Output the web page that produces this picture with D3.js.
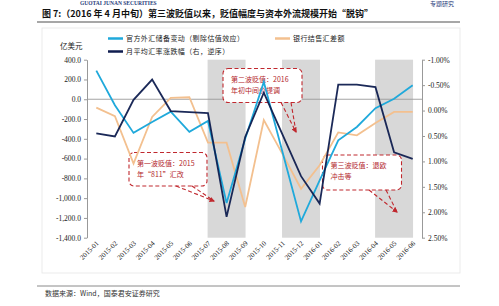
<!DOCTYPE html>
<html>
<head>
<meta charset="utf-8">
<script src="https://cdn.jsdelivr.net/npm/d3@7"></script>
<style>
  body { margin: 0; background: #fff; }
  text { font-family: "Liberation Serif", "Noto Sans CJK SC", serif; }
  .cjk { font-family: "Noto Sans CJK SC", sans-serif; }
</style>
</head>
<body>
<div id="chart"></div>
<script>
// months on the category axis
var months = ["2015-01","2015-02","2015-03","2015-04","2015-05","2015-06","2015-07","2015-08","2015-09",
  "2015-10","2015-11","2015-12","2016-01","2016-02","2016-03","2016-04","2016-05","2016-06"];

// 官方外汇储备变动（剔除估值效应），亿美元
var reserves = [290, -60, -340, -230, -125, -330, -220, -1050, -400, 175, -530, -1235, -820, -415, -280, -90, 5, 142];
// 银行结售汇差额，亿美元
var settlement = [-84, -172, -651, -179, 15, 20, -439, -439, -1090, -210, -553, -905, -668, -335, -365, -240, -128, -128];
// 月平均汇率涨跌幅（右，逆序），%
var fxChange = [0.45, 0.51, -0.21, -0.61, 0.01, 0.03, 0.05, 2.09, 0.52, -0.35, 0.47, 1.29, 1.83, -0.51, -0.51, -0.46, 0.82, 0.95];

// shaded depreciation waves (column centred on month)
var shadeMonths = ["2015-08", "2015-12", "2016-05"];

var leftTicks = [400, 200, 0, -200, -400, -600, -800, -1000, -1200, -1400];
var rightTicks = [-1.0, -0.5, 0, 0.5, 1.0, 1.5, 2.0, 2.5];

var seriesNames = ["官方外汇储备变动（剔除估值效应）", "银行结售汇差额", "月平均汇率涨跌幅（右，逆序）"];
var colors = ["#1fa9db", "#f3c08f", "#0f1d4f"];

var svgWidth = 499, svgHeight = 306;
var plot = { left: 87, right: 422, top: 59.7, bottom: 237.7 };

var svg = d3.select("#chart").append("svg")
  .attr("width", svgWidth)
  .attr("height", svgHeight);

// header (small, at the very top)
svg.append("text").attr("x", 80).attr("y", 5).attr("font-size", 5.5).attr("font-weight", "bold")
  .attr("fill", "#1f3b7a").attr("font-family", "Liberation Sans").text("GUOTAI JUNAN SECURITIES");
svg.append("text").attr("class", "cjk").attr("x", 430).attr("y", 6).attr("font-size", 6)
  .attr("fill", "#1f3b7a").text("专题研究");

// title
svg.append("text").attr("class", "cjk").attr("x", 42).attr("y", 17).attr("font-size", 9).attr("font-weight", "bold")
  .attr("fill", "#111").text("图 7:（2016 年 4 月中旬）第三波贬值以来，贬值幅度与资本外流规模开始“脱钩”");
svg.append("line").attr("x1", 37).attr("x2", 460).attr("y1", 22).attr("y2", 22)
  .attr("stroke", "#8a8a8a").attr("stroke-width", 1.6);

// chart frame
svg.append("rect").attr("x", 42).attr("y", 28).attr("width", 418).attr("height", 245)
  .attr("fill", "none").attr("stroke", "#e6e6e6").attr("stroke-width", 0.8);

// scales
var x = d3.scaleBand().domain(months).range([plot.left, plot.right]);
var yL = d3.scaleLinear().domain([-1400, 400]).range([plot.bottom, plot.top]);
var yR = d3.scaleLinear().domain([-1.0, 2.5]).range([plot.top, plot.bottom]);
var cx = function(m) { return x(m) + x.bandwidth() / 2; };

// shading
svg.append("g").selectAll("rect")
  .data(shadeMonths)
  .enter()
  .append("rect")
  .attr("x", d => cx(d) - x.bandwidth() * 1.02)
  .attr("width", x.bandwidth() * 2.04)
  .attr("y", plot.top)
  .attr("height", plot.bottom - plot.top)
  .attr("fill", "#d8d8d8");

// zero line
svg.append("line")
  .attr("x1", plot.left).attr("x2", plot.right)
  .attr("y1", yL(0)).attr("y2", yL(0))
  .attr("stroke", "#9a9a9a").attr("stroke-width", 0.9);

// axes
var fmt = d3.formatLocale({ decimal: ".", thousands: ",", grouping: [3], currency: ["", ""], minus: "-" }).format(",.1f");
var leftAxis = svg.append("g")
  .attr("transform", `translate(${plot.left},0)`)
  .call(d3.axisLeft(yL).tickValues(leftTicks).tickFormat(fmt).tickSize(3).tickSizeOuter(0));
var rightAxis = svg.append("g")
  .attr("transform", `translate(${plot.right},0)`)
  .call(d3.axisRight(yR).tickValues(rightTicks).tickFormat(d => d.toFixed(2) + "%").tickSize(3).tickSizeOuter(0));

[leftAxis, rightAxis].forEach(function(a) {
  a.select(".domain").attr("stroke", "#999");
  a.selectAll(".tick line").attr("stroke", "#999");
  a.selectAll("text").attr("font-family", "Liberation Serif").attr("font-size", 7.5).attr("fill", "#222");
});

// category labels
svg.append("g").selectAll("text")
  .data(months)
  .enter()
  .append("text")
  .attr("transform", d => `translate(${cx(d) + 3},${plot.bottom + 6}) rotate(-45)`)
  .attr("text-anchor", "end")
  .attr("font-size", 7)
  .attr("fill", "#222")
  .text(d => d);

// callouts (boxes under the lines)
var callouts = [
  { x: 129, y: 152.5, w: 78, h: 33.5, lines: ["第一波贬值：2015", "年“811”汇改"], tail: [[176, 186], [192, 186]], tip: [214, 201] },
  { x: 223, y: 68.5, w: 79, h: 34, lines: ["第二波贬值：2016", "年初中间价提调"], tail: [[281, 102.5], [291, 102.5]], tip: [296, 132] },
  { x: 322.5, y: 155, w: 79, h: 35, lines: ["第三波贬值：退欧", "冲击等"], tail: [[369, 190], [386, 190]], tip: [397, 212] }
];
var red = "#c0282e";
svg.append("defs").append("marker")
  .attr("id", "arrow").attr("viewBox", "0 0 10 10").attr("refX", 8).attr("refY", 5)
  .attr("markerWidth", 5).attr("markerHeight", 5).attr("orient", "auto")
  .append("path").attr("d", "M0,0 L10,5 L0,10 z").attr("fill", red);

var cg = svg.append("g");
callouts.forEach(function(c) {
  cg.append("rect").attr("x", c.x).attr("y", c.y).attr("width", c.w).attr("height", c.h)
    .attr("rx", 5).attr("fill", "#fff").attr("stroke", red).attr("stroke-width", 1.1)
    .attr("stroke-dasharray", "4,2.5");
  cg.append("line").attr("x1", c.tail[0][0]).attr("y1", c.tail[0][1]).attr("x2", c.tip[0]).attr("y2", c.tip[1])
    .attr("stroke", red).attr("stroke-width", 1.1).attr("stroke-dasharray", "4,2.5").attr("marker-end", "url(#arrow)");
  cg.append("line").attr("x1", c.tail[1][0]).attr("y1", c.tail[1][1]).attr("x2", c.tip[0]).attr("y2", c.tip[1])
    .attr("stroke", red).attr("stroke-width", 1.1).attr("stroke-dasharray", "4,2.5");
  c.lines.forEach(function(t, i) {
    cg.append("text").attr("class", "cjk").attr("x", c.x + 8).attr("y", c.y + 13 + i * 11)
      .attr("font-size", 7).attr("fill", "#b3262b").text(t);
  });
});

// lines
var lineL = d3.line().x((d, i) => cx(months[i])).y(d => yL(d));
var lineR = d3.line().x((d, i) => cx(months[i])).y(d => yR(d));

svg.append("path").datum(settlement).attr("d", lineL)
  .attr("fill", "none").attr("stroke", colors[1]).attr("stroke-width", 1.8);
svg.append("path").datum(reserves).attr("d", lineL)
  .attr("fill", "none").attr("stroke", colors[0]).attr("stroke-width", 1.8);
svg.append("path").datum(fxChange).attr("d", lineR)
  .attr("fill", "none").attr("stroke", colors[2]).attr("stroke-width", 1.8).attr("opacity", 0.95);

// legend
var legend = [
  { x: 108, y: 38.5, i: 0 },
  { x: 275, y: 38.5, i: 1 },
  { x: 108, y: 51.5, i: 2 }
];
legend.forEach(function(l) {
  svg.append("line").attr("x1", l.x).attr("x2", l.x + 15).attr("y1", l.y).attr("y2", l.y)
    .attr("stroke", colors[l.i]).attr("stroke-width", 2.5);
  svg.append("text").attr("class", "cjk").attr("x", l.x + 18).attr("y", l.y + 2.6)
    .attr("font-size", 7).attr("letter-spacing", 0.4).attr("fill", "#222").text(seriesNames[l.i]);
});

svg.append("text").attr("class", "cjk").attr("x", 60).attr("y", 49)
  .attr("font-size", 7.5).attr("fill", "#222").text("亿美元");

// source
svg.append("line").attr("x1", 37).attr("x2", 460).attr("y1", 286).attr("y2", 286)
  .attr("stroke", "#8a8a8a").attr("stroke-width", 1);
svg.append("text").attr("class", "cjk").attr("x", 45).attr("y", 296)
  .attr("font-size", 7).attr("fill", "#333").text("数据来源：Wind，国泰君安证券研究");
</script>
</body>
</html>
